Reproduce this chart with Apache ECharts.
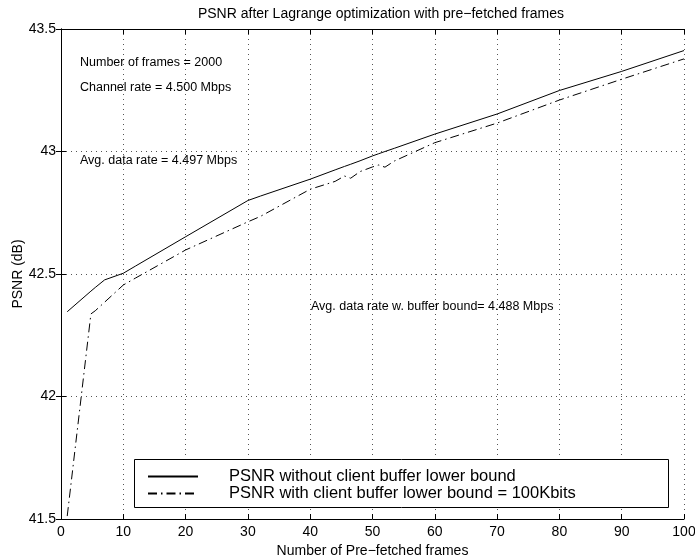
<!DOCTYPE html>
<html>
<head>
<meta charset="utf-8">
<title>PSNR after Lagrange optimization</title>
<script src="https://cdn.jsdelivr.net/npm/echarts@6/dist/echarts.min.js"></script>
<style>
  html, body { margin: 0; padding: 0; background: #fff; }
  #main { width: 695px; height: 556px; }
</style>
</head>
<body>
<div id="main"></div>
<script>
// number of pre-fetched frames (shared x for both curves)
var frames = [1, 4.8, 5.5, 7, 10, 12, 20, 30, 32, 40, 44, 45.5, 46.5, 48, 50, 51, 52, 53.5, 60, 70, 80, 90, 100];
// PSNR without client buffer lower bound
var psnrNoBound = [42.346, 42.43, 42.445, 42.476, 42.503, 42.533, 42.652, 42.80, 42.818, 42.887, 42.925, 42.939, 42.948, 42.962, 42.982, 42.991, 43.0, 43.013, 43.071, 43.153, 43.249, 43.327, 43.412];
// PSNR with client buffer lower bound = 100Kbits
var psnrBound = [41.512, 42.337, 42.35, 42.385, 42.455, 42.484, 42.598, 42.713, 42.735, 42.846, 42.878, 42.9, 42.891, 42.918, 42.937, 42.945, 42.936, 42.961, 43.036, 43.116, 43.21, 43.295, 43.378];
var seriesNames = ['PSNR without client buffer lower bound', 'PSNR with client buffer lower bound = 100Kbits'];
var notes = ['Number of frames = 2000', 'Channel rate = 4.500 Mbps', 'Avg. data rate = 4.497 Mbps', 'Avg. data rate w. buffer bound= 4.488 Mbps'];

function pairs(xs, ys) {
  return xs.map(function (x, i) { return [x, ys[i]]; });
}

var font = 'Liberation Sans, Arial, Helvetica, sans-serif';
var chart = echarts.init(document.getElementById('main'), null, {renderer: 'canvas'});

var gridLine = { show: true, lineStyle: { color: '#555', width: 1, type: [1, 4] } };
var frameLine = { show: true, lineStyle: { color: '#000', width: 1 } };
var tick = { show: true, inside: true, length: 5, lineStyle: { color: '#000' } };
var noteStyle = function (t) { return { text: t, fontSize: 12.5, fontFamily: font, fill: '#000' }; };

var option = {
  animation: false,
  textStyle: { fontFamily: font, color: '#000' },
  title: {
    text: 'PSNR after Lagrange optimization with pre\u2212fetched frames',
    left: 376, top: 2, textAlign: 'center',
    textStyle: { fontSize: 14, fontWeight: 'normal', color: '#000', fontFamily: font }
  },
  grid: { left: 61, right: 11, top: 29, bottom: 37, containLabel: false, outerBoundsMode: 'none' },
  xAxis: [
    {
      type: 'value', min: 0, max: 100, interval: 10, position: 'bottom',
      name: 'Number of Pre\u2212fetched frames', nameLocation: 'middle', nameGap: 22,
      nameTextStyle: { fontSize: 14, color: '#000', fontFamily: font },
      axisLine: frameLine, axisTick: tick, splitLine: gridLine,
      axisLabel: { fontSize: 14, color: '#000', margin: 6, fontFamily: font }
    },
    {
      type: 'value', min: 0, max: 100, interval: 10, position: 'top',
      axisLine: frameLine, axisTick: tick, splitLine: { show: false }, axisLabel: { show: false }
    }
  ],
  yAxis: [
    {
      type: 'value', min: 41.5, max: 43.5, interval: 0.5, position: 'left',
      name: 'PSNR (dB)', nameLocation: 'middle', nameGap: 36, nameMoveOverlap: false,
      nameTextStyle: { fontSize: 14, color: '#000', fontFamily: font },
      axisLine: frameLine, axisTick: tick, splitLine: gridLine,
      axisLabel: { fontSize: 14, color: '#000', margin: 5, fontFamily: font }
    },
    {
      type: 'value', min: 41.5, max: 43.5, interval: 0.5, position: 'right',
      axisLine: frameLine, axisTick: tick, splitLine: { show: false }, axisLabel: { show: false }
    }
  ],
  legend: {
    orient: 'vertical', left: 147, top: 468, z: 20,
    itemWidth: 50, itemHeight: 10, itemGap: 0, padding: 0,
    itemStyle: { opacity: 0 },
    textStyle: { fontSize: 16.5, lineHeight: 15, color: '#000', fontFamily: font, padding: [0, 0, 0, 26] },
    data: seriesNames
  },
  graphic: [
    { type: 'rect', left: 134, top: 459, z: 15,
      shape: { width: 534, height: 48 },
      style: { fill: '#fff', stroke: '#000', lineWidth: 1 } },
    { type: 'text', left: 80, top: 56, z: 15, style: noteStyle(notes[0]) },
    { type: 'text', left: 80, top: 81, z: 15, style: noteStyle(notes[1]) },
    { type: 'text', left: 80, top: 154, z: 15, style: noteStyle(notes[2]) },
    { type: 'text', left: 311, top: 300, z: 15, style: noteStyle(notes[3]) }
  ],
  series: [
    {
      name: seriesNames[0], type: 'line', data: pairs(frames, psnrNoBound),
      symbol: 'none', lineStyle: { color: '#000', width: 1, type: 'solid' },
      itemStyle: { color: '#000' }
    },
    {
      name: seriesNames[1], type: 'line', data: pairs(frames, psnrBound),
      symbol: 'none', lineStyle: { color: '#000', width: 1, type: [9, 4, 1.5, 4] },
      itemStyle: { color: '#000' }
    }
  ]
};

chart.setOption(option);
</script>
</body>
</html>
